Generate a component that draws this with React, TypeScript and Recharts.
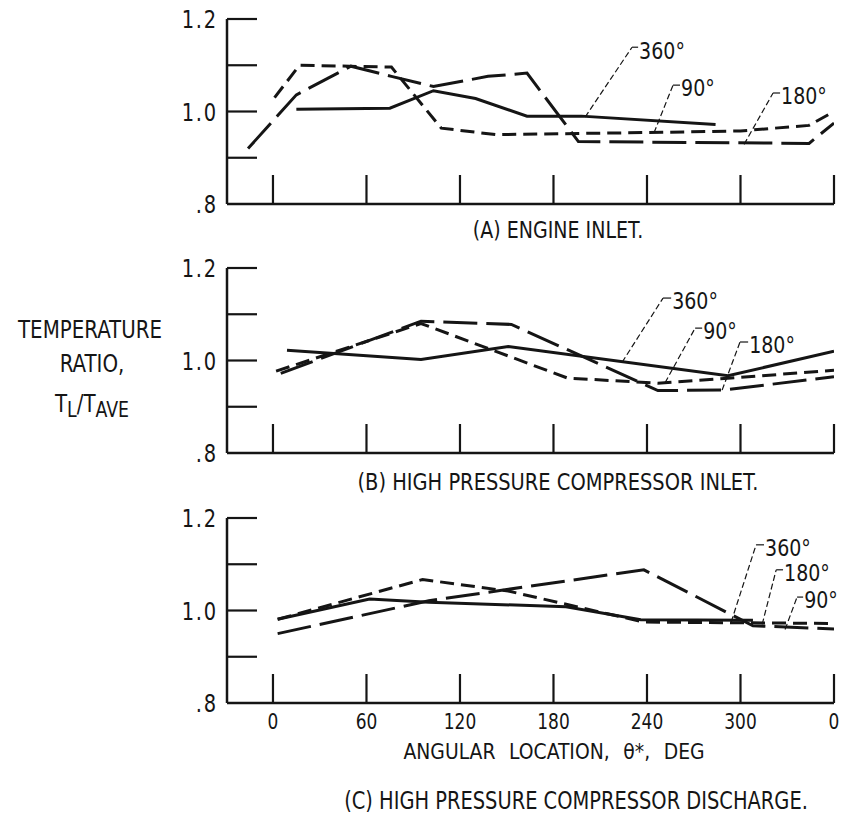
import React from 'react';
import { LineChart, Line, XAxis, YAxis, ReferenceLine, ReferenceDot } from 'recharts';

const FONT = "'DejaVu Sans Condensed', 'Liberation Sans Narrow', 'Noto Sans', sans-serif";
const INK = '#151515';

const angleTicks = [0, 60, 120, 180, 240, 300, 360];
const angleTickLabels = ['0', '60', '120', '180', '240', '300', '0'];
const ratioTicks = [0.8, 0.9, 1.0, 1.1, 1.2];
const ratioTickLabels = ['.8', '', '1.0', '', '1.2'];

// [angular location (deg), T_L / T_AVE]
// (A) engine inlet
const inlet360 = [[15, 1.005], [75, 1.007], [103, 1.045], [130, 1.028], [163, 0.99], [198, 0.99], [284, 0.972]];
const inlet90 = [[1, 1.03], [17, 1.1], [76, 1.096], [108, 0.964], [143, 0.95], [250, 0.955], [300, 0.958], [344, 0.97], [360, 1.0]];
const inlet180 = [[-16, 0.92], [15, 1.036], [50, 1.098], [76, 1.076], [103, 1.054], [138, 1.076], [163, 1.083], [196, 0.935], [344, 0.931], [360, 0.975]];

// (B) high pressure compressor inlet
const hpcInlet360 = [[9, 1.022], [95, 1.002], [151, 1.03], [292, 0.967], [360, 1.02]];
const hpcInlet90 = [[2, 0.977], [95, 1.08], [189, 0.962], [247, 0.951], [294, 0.962], [360, 0.979]];
const hpcInlet180 = [[5, 0.972], [95, 1.085], [153, 1.078], [247, 0.935], [289, 0.936], [360, 0.965]];

// (C) high pressure compressor discharge
const hpcDischarge360 = [[3, 0.981], [62, 1.025], [100, 1.018], [188, 1.008], [236, 0.98], [308, 0.979]];
const hpcDischarge180 = [[3, 0.981], [96, 1.067], [151, 1.042], [238, 0.975], [360, 0.972]];
const hpcDischarge90 = [[3, 0.95], [100, 1.021], [238, 1.088], [308, 0.967], [360, 0.96]];

const SOLID = undefined;
const SHORT = '14 7';
const LONG = '34 9';

const toPoints = (pairs: number[][]) => pairs.map(([deg, ratio]) => ({ deg, ratio }));

const panels = [
  {
    id: 'A',
    top: 0,
    series: [
      { name: '360', data: inlet360, dash: SOLID },
      { name: '90', data: inlet90, dash: SHORT },
      { name: '180', data: inlet180, dash: LONG },
    ],
    // leader: tip on curve -> bend -> hook end, label starts at hook end
    notes: [
      { text: '360°', tip: [200.3, 0.988], bend: [230.4, 1.139], end: 234.3 },
      { text: '90°', tip: [244.5, 0.954], bend: [256.7, 1.057], end: 261.2 },
      { text: '180°', tip: [302.3, 0.929], bend: [320.9, 1.04], end: 325.4 },
    ],
  },
  {
    id: 'B',
    top: 249,
    series: [
      { name: '360', data: hpcInlet360, dash: SOLID },
      { name: '90', data: hpcInlet90, dash: SHORT },
      { name: '180', data: hpcInlet180, dash: LONG },
    ],
    notes: [
      { text: '360°', tip: [224, 0.996], bend: [250.3, 1.135], end: 255.5 },
      { text: '90°', tip: [251.6, 0.952], bend: [270.9, 1.07], end: 275.4 },
      { text: '180°', tip: [288.2, 0.936], bend: [299.7, 1.04], end: 304.9 },
    ],
  },
  {
    id: 'C',
    top: 499,
    series: [
      { name: '360', data: hpcDischarge360, dash: SOLID },
      { name: '180', data: hpcDischarge180, dash: SHORT },
      { name: '90', data: hpcDischarge90, dash: LONG },
    ],
    notes: [
      { text: '360°', tip: [294, 0.975], bend: [310, 1.142], end: 315.1 },
      { text: '180°', tip: [313.9, 0.97], bend: [322.9, 1.088], end: 327.3 },
      { text: '90°', tip: [328.6, 0.959], bend: [336.3, 1.029], end: 340.2 },
    ],
  },
];

// narrow lettering, like the hand-lettered original
const Lettering = ({ x, y, size, anchor = 'middle', sx = 1, children, ...rest }: any) => (
  <text
    transform={`translate(${x} ${y}) scale(${sx} 1)`}
    textAnchor={anchor}
    dominantBaseline="central"
    fontSize={size}
    fontFamily={FONT}
    fill={INK}
    {...rest}
  >
    {children}
  </text>
);

const AngleTick = (props: any) => {
  const { x, y, payload, showLabels } = props;
  const label = angleTickLabels[angleTicks.indexOf(payload.value)];
  return (
    <g>
      <line x1={x} y1={y} x2={x} y2={y - 29} stroke={INK} strokeWidth={2.2} />
      {showLabels && (
        <Lettering x={x} y={y + 18} size={22} sx={0.86}>
          {label}
        </Lettering>
      )}
    </g>
  );
};

const RatioTick = (props: any) => {
  const { x, y, payload } = props;
  const label = ratioTickLabels[ratioTicks.indexOf(payload.value)];
  return (
    <g>
      {payload.value > 0.8 && <line x1={x} y1={y} x2={x + 30} y2={y} stroke={INK} strokeWidth={2.2} />}
      {label && (
        <Lettering x={x - 9} y={y + 1} size={24} anchor="end" sx={0.9} letterSpacing={2}>
          {label}
        </Lettering>
      )}
    </g>
  );
};

const NoteLabel = (props: any) => {
  const { cx, cy, text } = props;
  return (
    <Lettering x={cx + 1} y={cy + 3} size={23} anchor="start" sx={0.92}>
      {text}
    </Lettering>
  );
};

function Panel({ panel, showLabels }: { panel: (typeof panels)[number]; showLabels: boolean }) {
  return (
    <div style={{ position: 'absolute', left: 0, top: panel.top }}>
      <LineChart width={843} height={250} margin={{ top: 19, right: 9, bottom: 45, left: 226 }}>
        <XAxis
          type="number"
          dataKey="deg"
          domain={[-29.5, 360]}
          ticks={angleTicks}
          interval={0}
          height={1}
          tickSize={0}
          tickMargin={0}
          tickLine={false}
          allowDataOverflow
          axisLine={{ stroke: INK, strokeWidth: 2.5 }}
          tick={(p: any) => <AngleTick {...p} showLabels={showLabels} />}
        />
        <YAxis
          type="number"
          domain={[0.8, 1.2]}
          ticks={ratioTicks}
          interval={0}
          width={1}
          tickSize={0}
          tickMargin={0}
          tickLine={false}
          allowDataOverflow
          axisLine={{ stroke: INK, strokeWidth: 2.5 }}
          tick={(p: any) => <RatioTick {...p} />}
        />
        {panel.series.map((s) => (
          <Line
            key={s.name}
            data={toPoints(s.data)}
            dataKey="ratio"
            type="linear"
            stroke={INK}
            strokeWidth={3}
            strokeDasharray={s.dash}
            dot={false}
            activeDot={false}
            isAnimationActive={false}
          />
        ))}
        {panel.notes.map((n) => (
          <ReferenceLine
            key={n.text + 'lead'}
            segment={[
              { x: n.tip[0], y: n.tip[1] },
              { x: n.bend[0], y: n.bend[1] },
            ]}
            stroke={INK}
            strokeWidth={1.2}
            strokeDasharray="6 3"
            ifOverflow="visible"
          />
        ))}
        {panel.notes.map((n) => (
          <ReferenceLine
            key={n.text + 'hook'}
            segment={[
              { x: n.bend[0], y: n.bend[1] },
              { x: n.end, y: n.bend[1] },
            ]}
            stroke={INK}
            strokeWidth={1.2}
            ifOverflow="visible"
          />
        ))}
        {panel.notes.map((n) => (
          <ReferenceDot
            key={n.text + 'label'}
            x={n.end}
            y={n.bend[1]}
            r={0}
            ifOverflow="visible"
            shape={(p: any) => <NoteLabel {...p} text={n.text} />}
          />
        ))}
      </LineChart>
    </div>
  );
}

export default function App() {
  return (
    <div style={{ position: 'absolute', left: 0, top: 0, width: 843, height: 817, background: '#fff' }}>
      {panels.map((p) => (
        <Panel key={p.id} panel={p} showLabels={p.id === 'C'} />
      ))}
      <svg width={843} height={817} style={{ position: 'absolute', left: 0, top: 0, pointerEvents: 'none' }}>
        <Lettering x={90} y={330} size={24} sx={0.92}>TEMPERATURE</Lettering>
        <Lettering x={92} y={364} size={24} sx={0.92}>RATIO,</Lettering>
        <Lettering x={92} y={404} size={24} sx={0.92}>
          T<tspan fontSize={21} dy={6}>L</tspan>
          <tspan dy={-6}>/T</tspan>
          <tspan fontSize={21} dy={6}>AVE</tspan>
        </Lettering>
        <Lettering x={558} y={230} size={23} sx={0.92}>(A) ENGINE INLET.</Lettering>
        <Lettering x={558} y={482} size={23} sx={0.94}>(B) HIGH PRESSURE COMPRESSOR INLET.</Lettering>
        <Lettering x={554} y={751} size={22} sx={0.95} wordSpacing={8}>ANGULAR LOCATION, θ*, DEG</Lettering>
        <Lettering x={576} y={801} size={24} sx={0.9}>(C) HIGH PRESSURE COMPRESSOR DISCHARGE.</Lettering>
      </svg>
    </div>
  );
}
